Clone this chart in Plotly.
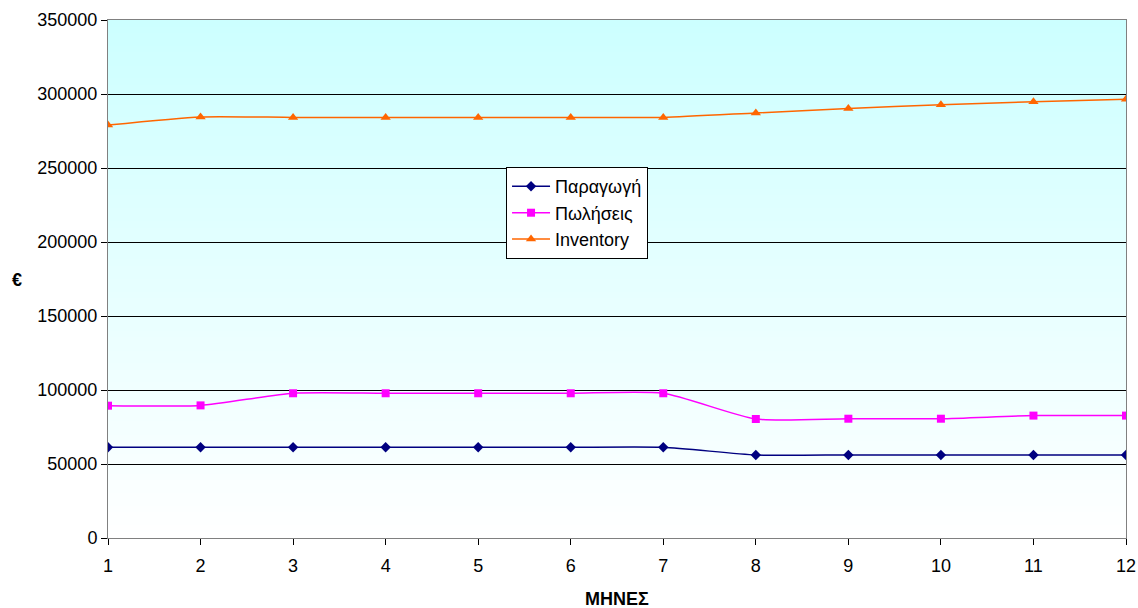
import plotly.graph_objects as go

months = list(range(1, 13))
paragogi = [61300, 61300, 61300, 61300, 61300, 61300, 61300, 56100, 56100, 56100, 56100, 56100]
poliseis = [89400, 89600, 97800, 97800, 97800, 97800, 97800, 80400, 80600, 80600, 82700, 82700]
inventory = [279000, 284500, 284200, 284200, 284200, 284200, 284200, 287200, 290200, 292800, 294700, 296500]

fig = go.Figure()

# vertical gradient background (white at bottom -> light cyan at top)
n = 80
shapes = []
for i in range(n):
    t = (i + 0.5) / n
    r = int(round(255 + (204 - 255) * t))
    c = f"rgb({r},255,255)"
    shapes.append(dict(type="rect", xref="paper", yref="paper",
                       x0=0, x1=1, y0=i / n, y1=(i + 1) / n + 0.002,
                       fillcolor=c, line=dict(width=0), layer="below"))

fig.add_trace(go.Scatter(x=months, y=paragogi, name="Παραγωγή", mode="lines+markers",
                         line=dict(color="#000080", width=1.5, shape="spline", smoothing=0.6),
                         marker=dict(symbol="diamond", size=8, color="#000080")))
fig.add_trace(go.Scatter(x=months, y=poliseis, name="Πωλήσεις", mode="lines+markers",
                         line=dict(color="#FF00FF", width=1.5, shape="spline", smoothing=0.6),
                         marker=dict(symbol="square", size=8, color="#FF00FF")))
fig.add_trace(go.Scatter(x=months, y=inventory, name="Inventory", mode="lines+markers",
                         line=dict(color="#FF6600", width=1.5, shape="spline", smoothing=0.6),
                         marker=dict(symbol="triangle-up", size=9, color="#FF6600")))

fig.update_layout(
    width=1138, height=608,
    margin=dict(l=108, r=12, t=20, b=70, autoexpand=False),
    paper_bgcolor="white", plot_bgcolor="rgba(0,0,0,0)",
    font=dict(family="Arial, Liberation Sans, sans-serif", size=18, color="black"),
    shapes=shapes,
    showlegend=True,
    legend=dict(x=0.391, y=0.716, xanchor="left", yanchor="top",
                bgcolor="white", bordercolor="black", borderwidth=1,
                font=dict(size=18), tracegroupgap=0, itemwidth=38),
    xaxis=dict(range=[1, 12], tickmode="array", tickvals=months,
               ticktext=[str(m) for m in months], automargin=False,
               showgrid=False, zeroline=False, showline=True, linecolor="#808080",
               mirror=True, ticks="outside", ticklen=6, tickcolor="black",
               ticklabelstandoff=5),
    yaxis=dict(range=[0, 350000], dtick=50000, tickformat="d", automargin=False,
               showgrid=True, gridcolor="black", gridwidth=1,
               zeroline=False, showline=True, linecolor="#808080", mirror=True,
               ticks="outside", ticklen=6, tickcolor="black"),
    annotations=[
        dict(text="<b>ΜΗΝΕΣ</b>", xref="paper", yref="paper", x=0.5, y=-0.118,
             xanchor="center", yanchor="middle", showarrow=False, font=dict(size=18)),
        dict(text="<b>€</b>", xref="paper", yref="paper", x=-0.089, y=0.498,
             xanchor="center", yanchor="middle", showarrow=False, font=dict(size=18)),
    ],
)

fig.write_html("out.html")
